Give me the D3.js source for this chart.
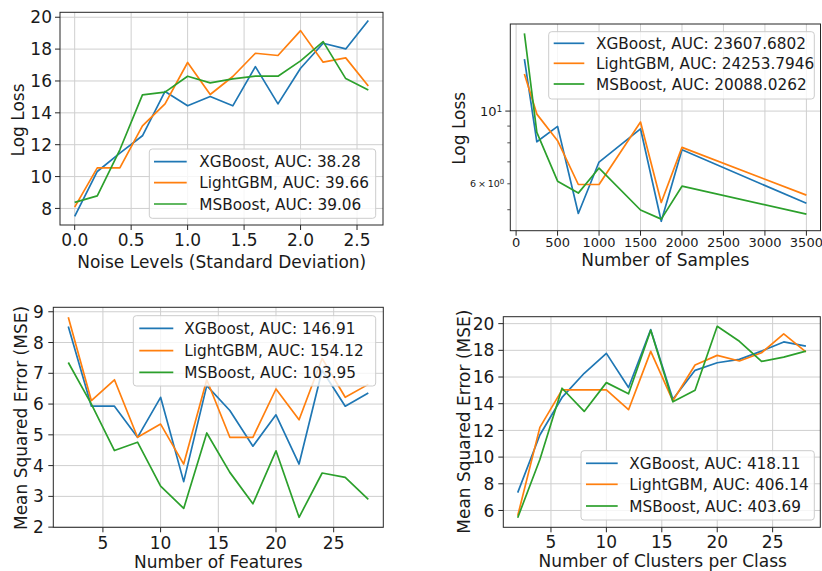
<!DOCTYPE html>
<html><head><meta charset="utf-8">
<script src="https://cdn.jsdelivr.net/npm/d3@7"></script>
<style>body{margin:0;background:#fff} svg{display:block;font-family:"DejaVu Sans",sans-serif}</style>
</head><body><svg id="c" width="822" height="571"></svg>
<script>
const models = ["XGBoost", "LightGBM", "MSBoost"];
const colors = ["#1f77b4", "#ff7f0e", "#2ca02c"];

const noiseLevels = [0, 0.2, 0.4, 0.6, 0.8, 1.0, 1.2, 1.4, 1.6, 1.8, 2.0, 2.2, 2.4, 2.6];
const noiseXGB  = [7.5, 10.32, 11.47, 12.56, 15.34, 14.44, 15.02, 14.44, 16.9, 14.56, 16.8, 18.37, 18.01, 19.79];
const noiseLGBM = [8.08, 10.55, 10.55, 13.18, 14.56, 17.16, 15.15, 16.28, 17.74, 17.6, 19.16, 17.18, 17.45, 15.69];
const noiseMSB  = [8.38, 8.79, 11.68, 15.13, 15.3, 16.3, 15.88, 16.13, 16.3, 16.3, 17.26, 18.47, 16.15, 15.44];
const noiseAUC  = ["38.28", "39.66", "39.06"];
const noiseXTicks = [0, 0.5, 1.0, 1.5, 2.0, 2.5];
const noiseYTicks = [8, 10, 12, 14, 16, 18, 20];

const sampleSizes = [100, 250, 500, 750, 1000, 1500, 1750, 2000, 3500];
const sampleXGB  = [14.41, 8.06, 8.98, 4.87, 6.99, 8.83, 4.61, 7.62, 5.23];
const sampleLGBM = [12.97, 9.79, 8.12, 5.97, 5.97, 9.26, 5.26, 7.75, 5.54];
const sampleMSB  = [17.26, 8.61, 6.11, 5.62, 6.70, 4.99, 4.68, 5.90, 4.85];
const sampleAUC  = ["23607.6802", "24253.7946", "20088.0262"];
const sampleXTicks = [0, 500, 1000, 1500, 2000, 2500, 3000, 3500];
const sampleYMinorTicks = [5, 6, 7, 8, 9];

const featureCounts = [2, 4, 6, 8, 10, 12, 14, 16, 18, 20, 22, 24, 26, 28];
const featureXGB  = [8.52, 5.93, 5.93, 4.92, 6.22, 3.48, 6.6, 5.79, 4.63, 5.65, 4.05, 7.1, 5.93, 6.36];
const featureLGBM = [8.82, 6.11, 6.79, 4.92, 5.35, 4.05, 6.79, 4.92, 4.92, 6.49, 5.49, 7.48, 6.22, 6.64];
const featureMSB  = [7.35, 6.0, 4.49, 4.76, 3.33, 2.61, 5.06, 3.78, 2.76, 4.48, 2.32, 3.76, 3.62, 2.9];
const featureAUC  = ["146.91", "154.12", "103.95"];
const featureXTicks = [5, 10, 15, 20, 25];
const featureYTicks = [2, 3, 4, 5, 6, 7, 8, 9];

const clusterCounts = [2, 4, 6, 8, 10, 12, 14, 16, 18, 20, 22, 24, 26, 28];
const clusterXGB  = [7.34, 11.66, 14.47, 16.28, 17.77, 15.21, 19.55, 14.34, 16.5, 17.07, 17.32, 17.94, 18.63, 18.31];
const clusterLGBM = [5.6, 12.23, 15.04, 15.04, 15.04, 13.55, 17.92, 14.22, 16.9, 17.62, 17.2, 17.82, 19.23, 17.89];
const clusterMSB  = [5.46, 9.82, 15.16, 13.42, 15.58, 14.74, 19.5, 14.14, 15.01, 19.8, 18.68, 17.17, 17.49, 17.94];
const clusterAUC  = ["418.11", "406.14", "403.69"];
const clusterXTicks = [5, 10, 15, 20, 25];
const clusterYTicks = [6, 8, 10, 12, 14, 16, 18, 20];

const svg = d3.select("#c");
const GRID = "#cfcfcf", SPINE = "#262626", TXT = "#1a1a1a";

function panel(cfg) {
  const g = svg.append("g");
  const x = d3.scaleLinear().domain(cfg.xDomain).range([cfg.l, cfg.r]);
  const y = (cfg.log ? d3.scaleLog() : d3.scaleLinear()).domain(cfg.yDomain).range([cfg.b, cfg.t]);

  g.selectAll(".gx").data(cfg.xTicks).enter().append("line")
    .attr("x1", d => x(d)).attr("x2", d => x(d)).attr("y1", cfg.t).attr("y2", cfg.b)
    .attr("stroke", GRID).attr("stroke-width", 1);
  g.selectAll(".gy").data(cfg.yTicks).enter().append("line")
    .attr("y1", d => y(d)).attr("y2", d => y(d)).attr("x1", cfg.l).attr("x2", cfg.r)
    .attr("stroke", GRID).attr("stroke-width", 1);

  const clip = "clip" + Math.random().toString(36).slice(2);
  svg.append("clipPath").attr("id", clip).append("rect")
    .attr("x", cfg.l).attr("y", cfg.t).attr("width", cfg.r - cfg.l).attr("height", cfg.b - cfg.t);
  const line = d3.line().x(d => x(d[0])).y(d => y(d[1]));
  cfg.series.forEach((vals, i) => {
    g.append("path").datum(cfg.xs.map((xv, j) => [xv, vals[j]]))
      .attr("d", line).attr("fill", "none").attr("stroke", colors[i])
      .attr("stroke-width", 1.7).attr("stroke-linejoin", "round").attr("clip-path", `url(#${clip})`);
  });

  g.append("rect").attr("x", cfg.l).attr("y", cfg.t).attr("width", cfg.r - cfg.l).attr("height", cfg.b - cfg.t)
    .attr("fill", "none").attr("stroke", SPINE).attr("stroke-width", 1);

  cfg.xTicks.forEach(d => {
    g.append("line").attr("x1", x(d)).attr("x2", x(d)).attr("y1", cfg.b).attr("y2", cfg.b + 5)
      .attr("stroke", SPINE).attr("stroke-width", 1);
    g.append("text").attr("x", x(d)).attr("y", cfg.b + cfg.xLabOff).attr("text-anchor", "middle")
      .attr("font-size", cfg.tickFs).attr("fill", TXT).text(cfg.xFmt(d));
  });
  cfg.yTicks.forEach(d => {
    g.append("line").attr("x1", cfg.l - 5).attr("x2", cfg.l).attr("y1", y(d)).attr("y2", y(d))
      .attr("stroke", SPINE).attr("stroke-width", 1);
    if (cfg.log) {
      const t = g.append("text").attr("x", cfg.l - 8).attr("y", y(d)).attr("dy", "0.35em")
        .attr("text-anchor", "end").attr("font-size", cfg.tickFs).attr("fill", TXT);
      t.append("tspan").text("10");
      t.append("tspan").attr("dy", "-0.45em").attr("font-size", cfg.tickFs * 0.7).text("1");
    } else {
      g.append("text").attr("x", cfg.l - cfg.yLabGap).attr("y", y(d)).attr("dy", "0.36em")
        .attr("text-anchor", "end").attr("font-size", cfg.tickFs).attr("fill", TXT).text(cfg.yFmt(d));
    }
  });
  if (cfg.log) {
    cfg.yMinor.forEach(d => {
      g.append("line").attr("x1", cfg.l - 3).attr("x2", cfg.l).attr("y1", y(d)).attr("y2", y(d))
        .attr("stroke", SPINE).attr("stroke-width", 0.8);
    });
    const t = g.append("text").attr("x", cfg.l - 6).attr("y", y(6)).attr("dy", "0.35em")
      .attr("text-anchor", "end").attr("font-size", 9.5).attr("fill", TXT);
    t.append("tspan").text("6\u2009\u00d7\u200910");
    t.append("tspan").attr("dy", "-0.45em").attr("font-size", 7).text("0");
  }

  g.append("text").attr("x", cfg.xl[0]).attr("y", cfg.xl[1]).attr("dy", "0.35em").attr("text-anchor", "middle")
    .attr("font-size", 17).attr("fill", TXT).text(cfg.xLabel);
  g.append("text").attr("transform", `translate(${cfg.yl[0]},${cfg.yl[1]}) rotate(-90)`)
    .attr("dy", "0.35em").attr("text-anchor", "middle")
    .attr("font-size", 17).attr("fill", TXT).text(cfg.yLabel);

  const L = cfg.legend;
  g.append("rect").attr("x", L.x0).attr("y", L.y0).attr("width", L.x1 - L.x0).attr("height", L.y1 - L.y0)
    .attr("rx", 3).attr("fill", "#fff").attr("fill-opacity", 0.8).attr("stroke", "#cccccc").attr("stroke-width", 1);
  models.forEach((m, i) => {
    const ry = L.rows[i];
    g.append("line").attr("x1", L.lx0).attr("x2", L.lx1).attr("y1", ry).attr("y2", ry)
      .attr("stroke", colors[i]).attr("stroke-width", 1.7);
    g.append("text").attr("x", L.tx).attr("y", ry).attr("dy", "0.36em").attr("font-size", 15.3)
      .attr("fill", TXT).text(`${m}, AUC: ${cfg.auc[i]}`);
  });
}

panel({
  l: 60, r: 383, t: 12.3, b: 225,
  xDomain: [-0.13, 2.73], yDomain: [6.96, 20.31],
  xs: noiseLevels, series: [noiseXGB, noiseLGBM, noiseMSB], auc: noiseAUC,
  xTicks: noiseXTicks, yTicks: noiseYTicks, xFmt: d3.format(".1f"), yFmt: d => String(d),
  tickFs: 17, xLabOff: 20.8, yLabGap: 8,
  xLabel: "Noise Levels (Standard Deviation)", xl: [221.7, 262.5],
  yLabel: "Log Loss", yl: [18.5, 120],
  legend: { x0: 149.3, x1: 375.7, y0: 149, y1: 218.3, lx0: 154, lx1: 186.7, tx: 199.3, rows: [161.7, 182.7, 204] }
});

panel({
  l: 510.3, r: 820.5, t: 24, b: 230.7, log: true,
  xDomain: [-70, 3670], yDomain: [4.315, 18.44],
  xs: sampleSizes, series: [sampleXGB, sampleLGBM, sampleMSB], auc: sampleAUC,
  xTicks: sampleXTicks, yTicks: [10], yMinor: sampleYMinorTicks, xFmt: d => String(d),
  tickFs: 13, xLabOff: 16.5, yLabGap: 8,
  xLabel: "Number of Samples", xl: [665.3, 260.5],
  yLabel: "Log Loss", yl: [458.7, 128.3],
  legend: { x0: 548.7, x1: 814.3, y0: 31.7, y1: 99, lx0: 553.7, lx1: 584.3, tx: 596, rows: [43.3, 63.3, 84] }
});

panel({
  l: 53.3, r: 383.3, t: 307.3, b: 527.3,
  xDomain: [0.7, 29.3], yDomain: [1.995, 9.145],
  xs: featureCounts, series: [featureXGB, featureLGBM, featureMSB], auc: featureAUC,
  xTicks: featureXTicks, yTicks: featureYTicks, xFmt: d => String(d), yFmt: d => String(d),
  tickFs: 17, xLabOff: 22, yLabGap: 9.5,
  xLabel: "Number of Features", xl: [218.3, 562.5],
  yLabel: "Mean Squared Error (MSE)", yl: [20.7, 418],
  legend: { x0: 133.3, x1: 375.7, y0: 315.7, y1: 386, lx0: 139.3, lx1: 173.3, tx: 184.3, rows: [328.3, 350.7, 372.3] }
});

panel({
  l: 503.3, r: 820.3, t: 316.7, b: 527.3,
  xDomain: [0.7, 29.3], yDomain: [4.74, 20.52],
  xs: clusterCounts, series: [clusterXGB, clusterLGBM, clusterMSB], auc: clusterAUC,
  xTicks: clusterXTicks, yTicks: clusterYTicks, xFmt: d => String(d), yFmt: d => String(d),
  tickFs: 17, xLabOff: 20.8, yLabGap: 9,
  xLabel: "Number of Clusters per Class", xl: [662.7, 561.5],
  yLabel: "Mean Squared Error (MSE)", yl: [464.3, 421.7],
  legend: { x0: 581, x1: 814.3, y0: 450.7, y1: 520, lx0: 586, lx1: 617.7, tx: 629.3, rows: [463.3, 484.3, 506] }
});
</script></body></html>
